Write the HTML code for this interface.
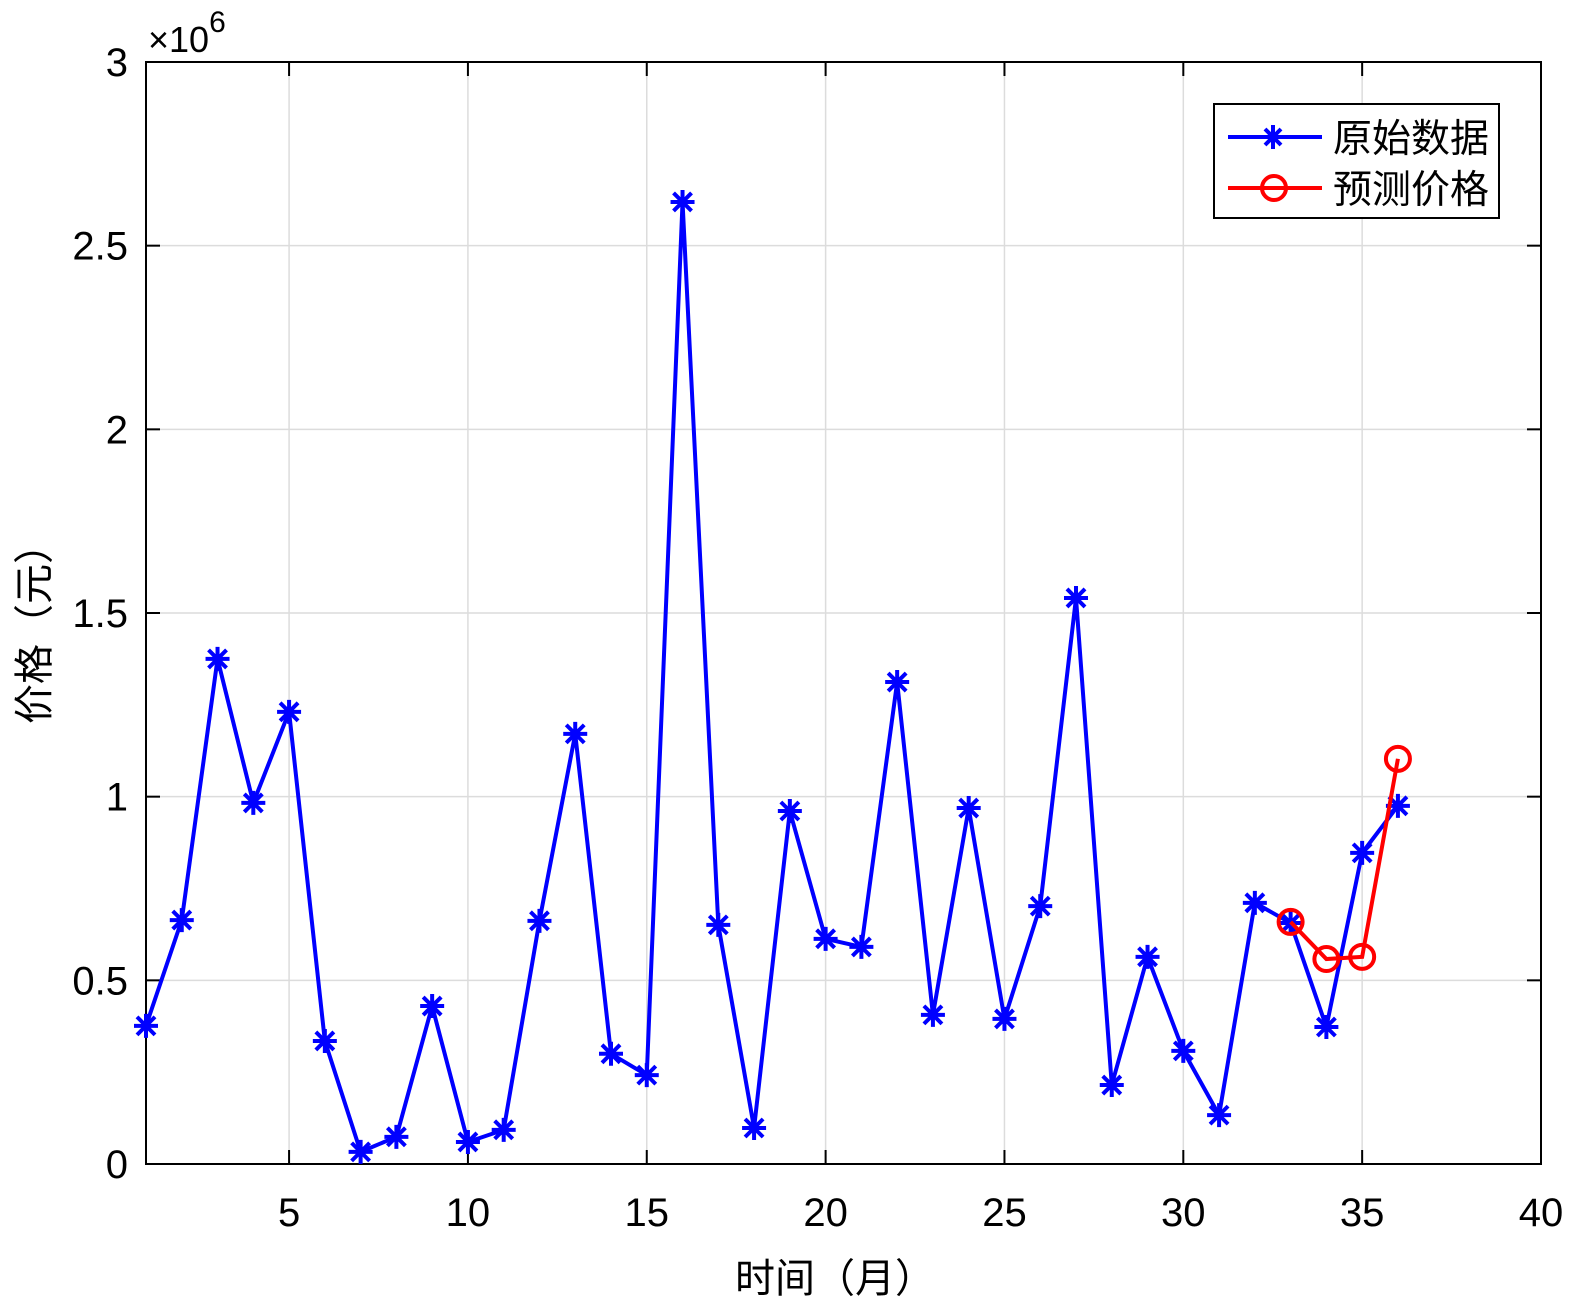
<!DOCTYPE html>
<html><head><meta charset="utf-8"><style>
body{margin:0;background:#fff}
svg text{font-family:"Liberation Sans","Noto Sans CJK SC",sans-serif;fill:#000}
</style></head><body>
<svg id="chart" width="1575" height="1304" xmlns="http://www.w3.org/2000/svg">
<rect x="0" y="0" width="1575" height="1304" fill="#fff"/>
<g id="grid"></g>
<g id="axes"></g>
<g id="series"></g>
<text x="148" y="52" font-size="36">×10<tspan dy="-20" font-size="30">6</tspan></text>
<text x="835" y="1292" font-size="40" text-anchor="middle">时间（月）</text>
<text transform="translate(48,624) rotate(-90)" font-size="40" text-anchor="middle">价格（元）</text>
<g>
<rect x="1214" y="104" width="285" height="114" fill="#fff" stroke="#000" stroke-width="2"/>
<g>
<line x1="1228" y1="137" x2="1322" y2="137" stroke="#0000ff" stroke-width="4"/>
<path d="M1261,137h24M1273,125v24M1265,129l16,16M1281,129l-16,16" stroke="#0000ff" stroke-width="4"/>
<text x="1333" y="152" font-size="39">原始数据</text></g>
<g>
<line x1="1228" y1="188" x2="1322" y2="188" stroke="#ff0000" stroke-width="4"/>
<circle cx="1274" cy="188" r="12" fill="none" stroke="#ff0000" stroke-width="4"/>
<text x="1333" y="203" font-size="39">预测价格</text></g>
</g>
</svg>
<script>
const months=[1,2,3,4,5,6,7,8,9,10,11,12,13,14,15,16,17,18,19,20,21,22,23,24,25,26,27,28,29,30,31,32,33,34,35,36];
const original=[0.376,0.664,1.375,0.983,1.231,0.335,0.033,0.074,0.430,0.060,0.093,0.662,1.171,0.300,0.242,2.619,0.651,0.098,0.961,0.613,0.591,1.312,0.406,0.969,0.395,0.702,1.541,0.215,0.564,0.308,0.133,0.711,0.656,0.373,0.847,0.975];
const forecastMonths=[33,34,35,36];
const forecast=[0.659,0.558,0.564,1.103];
const xTicks=[5,10,15,20,25,30,35,40];
const yTicks=[0,0.5,1,1.5,2,2.5,3];
const yTickLabels=["0","0.5","1","1.5","2","2.5","3"];
const L=146,R=1541,T=62,B=1164;
const xs=v=>L+(v-1)/39*(R-L);
const ys=v=>B-v/3*(B-T);
const NS="http://www.w3.org/2000/svg";
function mk(tag,attrs,parent){const e=document.createElementNS(NS,tag);for(const k in attrs)e.setAttribute(k,attrs[k]);parent.appendChild(e);return e;}
const grid=document.getElementById('grid'),axes=document.getElementById('axes'),series=document.getElementById('series');
xTicks.forEach(t=>{const x=xs(t);
 const g=mk('line',{x1:x,x2:x,y1:T,y2:B,stroke:'#dcdcdc','stroke-width':1.5},grid);
 
 
 mk('line',{x1:x,x2:x,y1:B,y2:B-14,stroke:'#000','stroke-width':2},axes);
 mk('line',{x1:x,x2:x,y1:T,y2:T+14,stroke:'#000','stroke-width':2},axes);
 const tx=mk('text',{x:x,y:B+62,'font-size':40,'text-anchor':'middle'},axes);tx.textContent=t;
 
 
});
yTicks.forEach((t,i)=>{const y=ys(t);
 const g=mk('line',{x1:L,x2:R,y1:y,y2:y,stroke:'#dcdcdc','stroke-width':1.5},grid);
 
 
 mk('line',{x1:L,x2:L+14,y1:y,y2:y,stroke:'#000','stroke-width':2},axes);
 mk('line',{x1:R,x2:R-14,y1:y,y2:y,stroke:'#000','stroke-width':2},axes);
 const tx=mk('text',{x:L-18,y:y+14,'font-size':40,'text-anchor':'end'},axes);tx.textContent=yTickLabels[i];
 
 
});
const box=mk('rect',{x:L,y:T,width:R-L,height:B-T,fill:'none',stroke:'#000','stroke-width':2},axes);


const p1=mk('polyline',{points:months.map((m,i)=>xs(m)+','+ys(original[i])).join(' '),fill:'none',stroke:'#0000ff','stroke-width':4},series);


months.forEach((m,i)=>{const x=xs(m),y=ys(original[i]);
 const s=mk('path',{d:`M${x-12},${y}h24M${x},${y-12}v24M${x-9},${y-9}l18,18M${x+9},${y-9}l-18,18`,stroke:'#0000ff','stroke-width':4},series);
 
 
});
const p2=mk('polyline',{points:forecastMonths.map((m,i)=>xs(m)+','+ys(forecast[i])).join(' '),fill:'none',stroke:'#ff0000','stroke-width':4},series);


forecastMonths.forEach((m,i)=>{
 const c=mk('circle',{cx:xs(m),cy:ys(forecast[i]),r:12,fill:'none',stroke:'#ff0000','stroke-width':4},series);
 
 
});
</script>
</body></html>
